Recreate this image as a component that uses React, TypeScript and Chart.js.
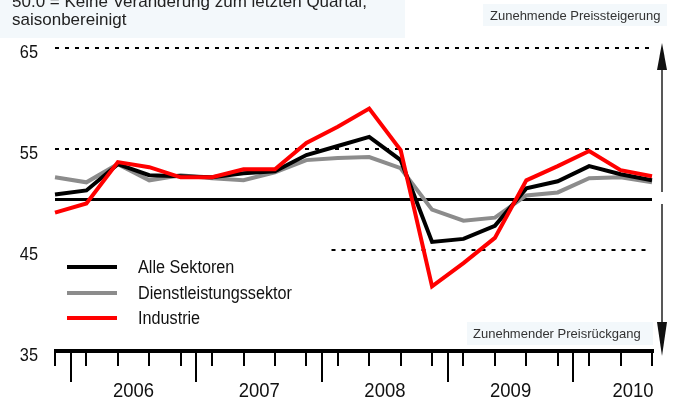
import React, { useEffect, useRef } from "react";
import { Chart, registerables } from "chart.js";

Chart.register(...registerables);

const quarters = [
  "Q4 2005",
  "Q1 2006", "Q2 2006", "Q3 2006", "Q4 2006",
  "Q1 2007", "Q2 2007", "Q3 2007", "Q4 2007",
  "Q1 2008", "Q2 2008", "Q3 2008", "Q4 2008",
  "Q1 2009", "Q2 2009", "Q3 2009", "Q4 2009",
  "Q1 2010", "Q2 2010", "Q3 2010",
];
const years = ["2006", "2007", "2008", "2009", "2010"];
const yTicks = [35, 45, 55, 65];

const alleSektoren = [50.5, 50.9, 53.5, 52.4, 52.3, 52.2, 52.6, 52.8, 54.4, 55.3, 56.2, 53.9, 45.8, 46.1, 47.4, 51.1, 51.8, 53.3, 52.5, 51.9];
const dienstleistung = [52.2, 51.7, 53.5, 51.9, 52.4, 52.1, 51.9, 52.7, 53.9, 54.1, 54.2, 53.1, 49.0, 47.9, 48.2, 50.4, 50.7, 52.1, 52.2, 51.7];
const industrie = [48.7, 49.6, 53.7, 53.2, 52.2, 52.2, 53.0, 53.0, 55.6, 57.2, 59.0, 54.9, 41.4, 43.7, 46.2, 51.9, 53.3, 54.8, 52.9, 52.3];

const seriesNames = ["Alle Sektoren", "Dienstleistungssektor", "Industrie"];
const seriesColors = ["#000000", "#8c8c8c", "#ff0000"];

const titleLines = ["50.0 = Keine Veränderung zum letzten Quartal,", "saisonbereinigt"];
const topLabel = "Zunehmende Preissteigerung";
const bottomLabel = "Zunehmender Preisrückgang";

const FONT = "'Liberation Sans', Arial, Helvetica, sans-serif";
const BOX_BG = "#f3f8fb";

function condensedText(ctx: CanvasRenderingContext2D, text: string, x: number, y: number, size: number, sx: number, align: CanvasTextAlign, color: string) {
  ctx.save();
  ctx.font = `${size}px ${FONT}`;
  ctx.fillStyle = color;
  ctx.textAlign = align;
  ctx.textBaseline = "middle";
  ctx.translate(x, y);
  ctx.scale(sx, 1);
  ctx.fillText(text, 0, 0);
  ctx.restore();
}

const deco = {
  id: "deco",
  beforeDatasetsDraw(chart: any) {
    const ctx: CanvasRenderingContext2D = chart.ctx;
    const xs = chart.scales.x;
    const ys = chart.scales.y;
    const x0 = xs.getPixelForValue(0);
    const x1 = xs.getPixelForValue(quarters.length - 1);
    const xf = (i: number) => x0 + ((x1 - x0) * i) / (quarters.length - 1);
    ctx.save();
    ctx.strokeStyle = "#000";
    ctx.lineWidth = 2;
    ctx.setLineDash([4, 6]);
    const dotted = [
      { v: 65, from: 0 },
      { v: 55, from: 0 },
      { v: 45, from: 8.8 },
    ];
    dotted.forEach((d) => {
      const y = Math.round(ys.getPixelForValue(d.v));
      ctx.beginPath();
      ctx.moveTo(xf(d.from), y);
      ctx.lineTo(x1 - 2, y);
      ctx.stroke();
    });
    ctx.setLineDash([]);
    const y50 = ys.getPixelForValue(50);
    ctx.lineWidth = 3;
    ctx.beginPath();
    ctx.moveTo(x0, y50);
    ctx.lineTo(x1, y50);
    ctx.stroke();
    ctx.restore();
  },
  afterDraw(chart: any) {
    const ctx: CanvasRenderingContext2D = chart.ctx;
    const xs = chart.scales.x;
    const ys = chart.scales.y;
    const x0 = xs.getPixelForValue(0);
    const x1 = xs.getPixelForValue(quarters.length - 1);
    const xf = (i: number) => x0 + ((x1 - x0) * i) / (quarters.length - 1);
    const yAxis = ys.getPixelForValue(35);
    ctx.save();

    ctx.strokeStyle = "#000";
    ctx.lineWidth = 4;
    ctx.beginPath();
    ctx.moveTo(x0 - 1, yAxis);
    ctx.lineTo(x1 + 2, yAxis);
    ctx.stroke();
    ctx.lineWidth = 2;
    for (let i = 0; i < quarters.length; i++) {
      const x = Math.round(xf(i));
      ctx.beginPath();
      ctx.moveTo(x, yAxis);
      ctx.lineTo(x, yAxis + 15);
      ctx.stroke();
    }
    years.forEach((yr, k) => {
      const b = Math.round(xf(0.5 + 4 * k));
      ctx.beginPath();
      ctx.moveTo(b, yAxis);
      ctx.lineTo(b, yAxis + 31);
      ctx.stroke();
      let cx = xf(2.5 + 4 * k);
      if (cx > 633) cx = 633;
      condensedText(ctx, yr, cx, 391, 21, 0.88, "center", "#111");
    });

    yTicks.forEach((v) => {
      condensedText(ctx, String(v), 38, ys.getPixelForValue(v) + 5, 19, 0.86, "right", "#111");
    });

    ctx.strokeStyle = "#222";
    ctx.fillStyle = "#111";
    ctx.lineWidth = 1.5;
    const ax = 662;
    ctx.beginPath();
    ctx.moveTo(ax, 192);
    ctx.lineTo(ax, 66);
    ctx.moveTo(ax, 204);
    ctx.lineTo(ax, 326);
    ctx.stroke();
    ctx.beginPath();
    ctx.moveTo(ax, 43);
    ctx.lineTo(ax - 5, 70);
    ctx.lineTo(ax + 5, 70);
    ctx.closePath();
    ctx.fill();
    ctx.beginPath();
    ctx.moveTo(ax, 356);
    ctx.lineTo(ax - 5, 322);
    ctx.lineTo(ax + 5, 322);
    ctx.closePath();
    ctx.fill();

    ctx.fillStyle = BOX_BG;
    ctx.fillRect(0, 0, 405, 38);
    ctx.fillRect(483, 4, 184, 22);
    ctx.fillRect(467, 322, 186, 23);
    ctx.font = `17px ${FONT}`;
    ctx.fillStyle = "#222";
    ctx.textAlign = "left";
    ctx.textBaseline = "alphabetic";
    ctx.fillText(titleLines[0], 12, 7, 390);
    ctx.fillText(titleLines[1], 12, 25);
    ctx.font = `13px ${FONT}`;
    ctx.fillStyle = "#333";
    ctx.textBaseline = "middle";
    ctx.fillText(topLabel, 490, 16, 174);
    ctx.fillText(bottomLabel, 473, 334, 171);

    const legendY = [267, 293, 318];
    seriesNames.forEach((name, i) => {
      ctx.strokeStyle = seriesColors[i];
      ctx.lineWidth = 4;
      ctx.beginPath();
      ctx.moveTo(67, legendY[i]);
      ctx.lineTo(117, legendY[i]);
      ctx.stroke();
      condensedText(ctx, name, 138, legendY[i] + 1, 18, 0.9, "left", "#111");
    });

    ctx.restore();
  },
};

export default function App() {
  const ref = useRef<HTMLCanvasElement | null>(null);
  useEffect(() => {
    if (!ref.current) return;
    const mk = (data: number[], i: number, order: number) => ({
      label: seriesNames[i],
      data,
      borderColor: seriesColors[i],
      backgroundColor: seriesColors[i],
      borderWidth: 4,
      pointRadius: 0,
      tension: 0,
      fill: false,
      borderJoinStyle: "miter" as const,
      borderCapStyle: "butt" as const,
      order,
    });
    const chart = new Chart(ref.current, {
      type: "line",
      data: {
        labels: quarters,
        datasets: [mk(alleSektoren, 0, 1), mk(dienstleistung, 1, 2), mk(industrie, 2, 0)],
      },
      options: {
        responsive: false,
        animation: false,
        layout: { padding: { left: 55, right: 26, top: 48, bottom: 49 } },
        scales: {
          x: { display: false, offset: false },
          y: { display: false, min: 35, max: 65 },
        },
        plugins: { legend: { display: false }, tooltip: { enabled: false } },
      },
      plugins: [deco],
    });
    return () => chart.destroy();
  }, []);
  return (
    <div style={{ position: "absolute", left: 0, top: 0, width: 678, height: 400, background: "#fff" }}>
      <canvas ref={ref} width={678} height={400} style={{ display: "block" }} />
    </div>
  );
}
